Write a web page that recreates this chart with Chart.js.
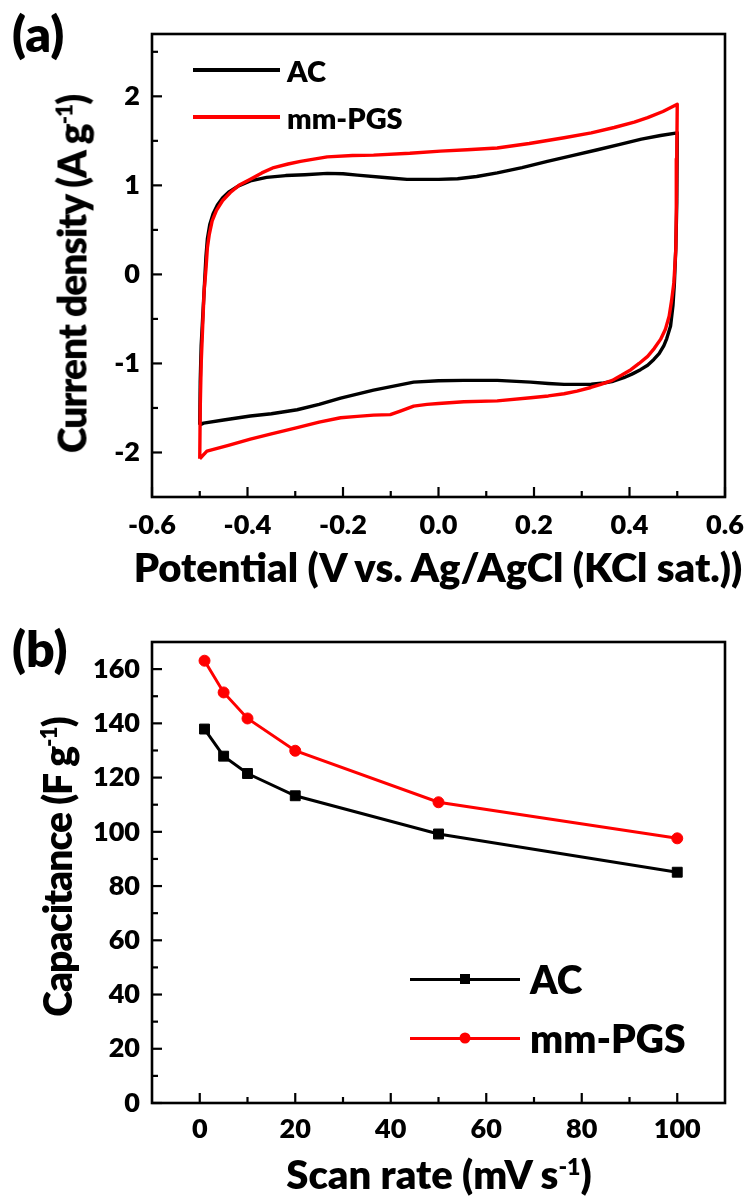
<!DOCTYPE html>
<html>
<head>
<meta charset="utf-8">
<script src="https://cdn.jsdelivr.net/npm/chart.js@4.4.1/dist/chart.umd.min.js"></script>
<style>
  html, body { margin: 0; padding: 0; background: #fff; overflow: hidden; }
  body { width: 750px; height: 1199px; position: relative; font-family: Lato, sans-serif; font-weight: 800; color: #000; }
  .panel { position: absolute; left: 0; }
  .tag { position: absolute; left: 12px; font-size: 50px; line-height: 1; }
  .leg { position: absolute; display: flex; align-items: center; height: 40px; line-height: 1; }
  .leg .ln { position: relative; flex: none; }
  .leg .mk { position: absolute; left: 50%; top: 50%; transform: translate(-50%, -50%); }
  .ttl { position: absolute; font-size: 40px; line-height: 1; white-space: nowrap; transform: translate(-50%, -50%); }
  .ttl.rot { font-size: 39px; letter-spacing: -1px; transform: translate(-50%, -50%) rotate(-90deg); }
  .ttl sup { font-size: 0.58em; line-height: 0; vertical-align: 0.62em; }
</style>
</head>
<body>
<div class="panel" style="top:0"><canvas id="cvChart" width="750" height="620"></canvas></div>
<div class="panel" style="top:620px"><canvas id="rateChart" width="750" height="579"></canvas></div>

<div class="tag" style="top:8px">(a)</div>
<div class="tag" style="top:623px">(b)</div>

<!-- axis titles -->
<div class="ttl" style="left:438px;top:567px">Potential (V vs. Ag/AgCl (KCl sat.))</div>
<div class="ttl rot" style="left:72px;top:274px">Current density (A g<sup>-1</sup>)</div>
<div class="ttl" style="left:439px;top:1174px">Scan rate (mV s<sup>-1</sup>)</div>
<div class="ttl rot" style="left:57px;top:867px">Capacitance (F g<sup>-1</sup>)</div>

<!-- legend (a) -->
<div class="leg" style="left:193px;top:50px">
  <span class="ln" style="width:87px;height:4px;background:#000"></span>
  <span style="margin-left:7px;font-size:29px">AC</span>
</div>
<div class="leg" style="left:193px;top:97px">
  <span class="ln" style="width:87px;height:4px;background:#ff0000"></span>
  <span style="margin-left:7px;font-size:29px">mm-PGS</span>
</div>

<!-- legend (b) -->
<div class="leg" style="left:410px;top:959px">
  <span class="ln" style="width:110px;height:3px;background:#000"><span class="mk" style="width:10px;height:10px;background:#000"></span></span>
  <span style="margin-left:10px;font-size:39px">AC</span>
</div>
<div class="leg" style="left:410px;top:1018px">
  <span class="ln" style="width:110px;height:3px;background:#ff0000"><span class="mk" style="width:11px;height:11px;border-radius:50%;background:#ff0000"></span></span>
  <span style="margin-left:10px;font-size:39px">mm-PGS</span>
</div>

<script>
// (a) cyclic voltammograms, potential in V vs Ag/AgCl, current in A/g
const acV = [-0.500, -0.499, -0.497, -0.494, -0.490, -0.487, -0.484, -0.479, -0.472, -0.463, -0.452, -0.438, -0.420, -0.394, -0.360, -0.320, -0.280, -0.233, -0.200, -0.170, -0.107, -0.066, 0.000, 0.040, 0.080, 0.123, 0.175, 0.228, 0.280, 0.333, 0.380, 0.425, 0.465, 0.500,
  0.499, 0.497, 0.494, 0.491, 0.486, 0.478, 0.472, 0.462, 0.451, 0.438, 0.423, 0.405, 0.388, 0.366, 0.346, 0.320, 0.290, 0.263, 0.230, 0.193, 0.123, 0.053, 0.000, -0.052, -0.094, -0.136, -0.205, -0.250, -0.296, -0.350, -0.394, -0.450, -0.492, -0.500];
const acI = [-1.69, -1.20, -0.80, -0.50, -0.10, 0.20, 0.40, 0.56, 0.68, 0.78, 0.86, 0.93, 0.99, 1.05, 1.09, 1.11, 1.12, 1.135, 1.13, 1.115, 1.085, 1.067, 1.067, 1.075, 1.10, 1.14, 1.20, 1.27, 1.335, 1.40, 1.46, 1.52, 1.56, 1.59,
  0.80, 0.30, -0.10, -0.35, -0.58, -0.72, -0.80, -0.89, -0.955, -1.02, -1.07, -1.12, -1.16, -1.20, -1.22, -1.233, -1.235, -1.235, -1.225, -1.21, -1.19, -1.19, -1.195, -1.21, -1.255, -1.30, -1.39, -1.46, -1.52, -1.565, -1.59, -1.635, -1.67, -1.69];

const pgsV = [-0.500, -0.499, -0.497, -0.494, -0.491, -0.487, -0.484, -0.480, -0.474, -0.465, -0.452, -0.436, -0.418, -0.394, -0.370, -0.345, -0.315, -0.289, -0.233, -0.180, -0.136, -0.060, 0.004, 0.060, 0.123, 0.190, 0.263, 0.320, 0.368, 0.410, 0.438, 0.470, 0.500,
  0.499, 0.498, 0.497, 0.493, 0.488, 0.483, 0.475, 0.465, 0.452, 0.438, 0.420, 0.403, 0.384, 0.364, 0.340, 0.319, 0.290, 0.263, 0.230, 0.193, 0.123, 0.053, 0.000, -0.024, -0.052, -0.080, -0.101, -0.136, -0.170, -0.205, -0.250, -0.296, -0.350, -0.394, -0.440, -0.485, -0.500];
const pgsI = [-2.07, -1.50, -1.00, -0.60, -0.20, 0.06, 0.30, 0.45, 0.60, 0.72, 0.83, 0.92, 1.00, 1.07, 1.14, 1.20, 1.24, 1.27, 1.32, 1.335, 1.34, 1.36, 1.385, 1.40, 1.42, 1.47, 1.535, 1.59, 1.65, 1.71, 1.76, 1.83, 1.91,
  1.30, 0.70, 0.28, -0.09, -0.30, -0.47, -0.62, -0.73, -0.83, -0.92, -1.00, -1.07, -1.13, -1.19, -1.235, -1.27, -1.31, -1.34, -1.365, -1.385, -1.42, -1.43, -1.45, -1.46, -1.48, -1.535, -1.575, -1.58, -1.595, -1.61, -1.66, -1.72, -1.79, -1.85, -1.92, -1.985, -2.07];

const cvXTicks = [-0.6, -0.4, -0.2, 0.0, 0.2, 0.4, 0.6];
const cvYTicks = [-2, -1, 0, 1, 2];

// (b) specific capacitance vs scan rate
const scanRates = [1, 5, 10, 20, 50, 100];
const acCap = [137.9, 127.9, 121.5, 113.3, 99.2, 85.1];
const pgsCap = [163.1, 151.4, 141.8, 129.9, 110.9, 97.6];

const rateXTicks = [0, 20, 40, 60, 80, 100];
const rateYTicks = [0, 20, 40, 60, 80, 100, 120, 140, 160];

const FONT = 'Lato, sans-serif';
const tickFont = { family: FONT, size: 27, weight: '800' };

// half-step ticks between (and just outside) the labelled ones
function minorOf(majors, min, max) {
  const step = majors[1] - majors[0];
  const out = [];
  for (let v = majors[0] - step / 2; v <= max + 1e-9; v += step) {
    if (v > min + 1e-9 && v < max - 1e-9) out.push(v);
  }
  return out;
}

// closed frame with inward ticks on the left and bottom axes
const boxTicks = {
  id: 'boxTicks',
  afterDraw(chart, args, o) {
    const { ctx, chartArea: a } = chart;
    const sx = chart.scales.x, sy = chart.scales.y;
    const seg = (x1, y1, x2, y2) => { ctx.beginPath(); ctx.moveTo(x1, y1); ctx.lineTo(x2, y2); ctx.stroke(); };
    ctx.save();
    ctx.strokeStyle = '#000';
    ctx.lineWidth = 2.2;
    o.xMajor.forEach(v => { const p = sx.getPixelForValue(v); seg(p, a.bottom, p, a.bottom - 10); });
    minorOf(o.xMajor, sx.min, sx.max).forEach(v => { const p = sx.getPixelForValue(v); seg(p, a.bottom, p, a.bottom - 6); });
    o.yMajor.forEach(v => { const p = sy.getPixelForValue(v); seg(a.left, p, a.left + 10, p); });
    minorOf(o.yMajor, sy.min, sy.max).forEach(v => { const p = sy.getPixelForValue(v); seg(a.left, p, a.left + 6, p); });
    ctx.lineWidth = 2.6;
    ctx.strokeRect(a.left, a.top, a.right - a.left, a.bottom - a.top);
    ctx.restore();
  }
};

function axis(opts) {
  const { min, max, ticks, fmt, pad, fitSize, horizontal } = opts;
  return {
    type: 'linear',
    min, max,
    grid: { display: false, drawTicks: false },
    border: { display: false },
    afterBuildTicks: s => { s.ticks = ticks.map(v => ({ value: v })); },
    afterFit: s => {
      if (horizontal) { s.height = fitSize; s.paddingLeft = 0; s.paddingRight = 0; }
      else { s.width = fitSize; s.paddingTop = 0; s.paddingBottom = 0; }
    },
    ticks: { color: '#000', font: tickFont, padding: pad, autoSkip: false, maxRotation: 0, callback: fmt },
    title: { display: false }
  };
}

const pts = (xs, ys) => xs.map((x, i) => ({ x, y: ys[i] }));

new Chart(document.getElementById('cvChart'), {
  type: 'scatter',
  data: {
    datasets: [
      { label: 'AC', data: pts(acV, acI), showLine: true, borderColor: '#000', borderWidth: 3.4, pointRadius: 0, tension: 0, borderJoinStyle: 'round', order: 1 },
      { label: 'mm-PGS', data: pts(pgsV, pgsI), showLine: true, borderColor: '#ff0000', borderWidth: 3.4, pointRadius: 0, tension: 0, borderJoinStyle: 'round', order: 0 }
    ]
  },
  options: {
    responsive: false,
    devicePixelRatio: 1,
    animation: false,
    layout: { padding: { left: 0, top: 34, right: 25, bottom: 0 } },
    plugins: { legend: { display: false }, tooltip: { enabled: false }, boxTicks: { xMajor: cvXTicks, yMajor: cvYTicks } },
    scales: {
      x: axis({ min: -0.6, max: 0.6, ticks: cvXTicks, fmt: v => v.toFixed(1), pad: 12, fitSize: 123, horizontal: true }),
      y: axis({ min: -2.5, max: 2.7, ticks: cvYTicks, fmt: v => String(v), pad: 12, fitSize: 152, horizontal: false })
    }
  },
  plugins: [boxTicks]
});

new Chart(document.getElementById('rateChart'), {
  type: 'scatter',
  data: {
    datasets: [
      { label: 'AC', data: pts(scanRates, acCap), showLine: true, borderColor: '#000', borderWidth: 3, pointStyle: 'rect', pointRadius: 7, pointBackgroundColor: '#000', pointBorderColor: '#000', pointBorderWidth: 1 },
      { label: 'mm-PGS', data: pts(scanRates, pgsCap), showLine: true, borderColor: '#ff0000', borderWidth: 3, pointStyle: 'circle', pointRadius: 5.5, pointBackgroundColor: '#ff0000', pointBorderColor: '#ff0000', pointBorderWidth: 1 }
    ]
  },
  options: {
    responsive: false,
    devicePixelRatio: 1,
    animation: false,
    layout: { padding: { left: 0, top: 22, right: 25, bottom: 0 } },
    plugins: { legend: { display: false }, tooltip: { enabled: false }, boxTicks: { xMajor: rateXTicks, yMajor: rateYTicks } },
    scales: {
      x: axis({ min: -10, max: 110, ticks: rateXTicks, fmt: v => String(v), pad: 10, fitSize: 96, horizontal: true }),
      y: axis({ min: 0, max: 170, ticks: rateYTicks, fmt: v => String(v), pad: 12, fitSize: 152, horizontal: false })
    }
  },
  plugins: [boxTicks]
});
</script>
</body>
</html>
